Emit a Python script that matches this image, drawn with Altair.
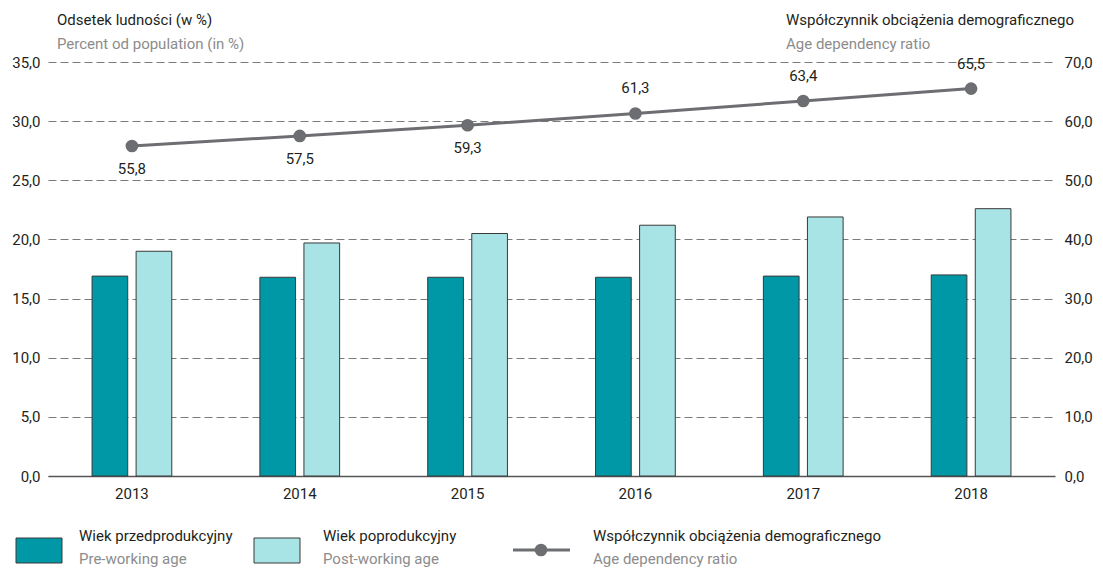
import altair as alt
import pandas as pd

# ---- data ----
years = ["2013", "2014", "2015", "2016", "2017", "2018"]
pre_working = [16.9, 16.8, 16.8, 16.8, 16.9, 17.0]
post_working = [19.0, 19.7, 20.5, 21.2, 21.9, 22.6]
dependency_ratio = [55.8, 57.5, 59.3, 61.3, 63.4, 65.5]

series_pl = ["Wiek przedprodukcyjny", "Wiek poprodukcyjny", "Współczynnik obciążenia demograficznego"]
series_en = ["Pre-working age", "Post-working age", "Age dependency ratio"]
left_title = ["Odsetek ludności (w %)", "Percent od population (in %)"]
right_title = ["Współczynnik obciążenia demograficznego", "Age dependency ratio"]

left_ticks = [0, 5, 10, 15, 20, 25, 30, 35]
right_ticks = [0, 10, 20, 30, 40, 50, 60, 70]

DARK = "#0098A6"
LIGHT = "#A8E3E5"
GREY = "#6D6E71"
TXT = "#231F20"
SUB = "#8C8C8C"
FONT = "Roboto, Liberation Sans, sans-serif"
FS = 15

bars_df = pd.DataFrame({
    "year": years * 2,
    "series": [series_pl[0]] * len(years) + [series_pl[1]] * len(years),
    "value": pre_working + post_working,
})
line_df = pd.DataFrame({"year": years, "ratio": dependency_ratio})

fmt = "replace(format(datum.value, '.1f'), '.', ',')"

x_enc = alt.X("year:O", sort=years,
              scale=alt.Scale(paddingInner=0, paddingOuter=0),
              axis=alt.Axis(title=None, labelAngle=0, domain=True, domainColor="#555555",
                            domainWidth=1.5, ticks=False, labelPadding=10, grid=False))

bars = alt.Chart(bars_df).mark_bar(stroke="#3a3a3a", strokeWidth=1).encode(
    x=x_enc,
    xOffset=alt.XOffset("series:N", sort=series_pl[:2],
                        scale=alt.Scale(paddingInner=0.19, paddingOuter=1.0)),
    y=alt.Y("value:Q", scale=alt.Scale(domain=[0, 35], nice=False),
            axis=alt.Axis(title=None, values=left_ticks, labelExpr=fmt, grid=True,
                          gridDash=[8, 4], gridColor="#7a7a7a", gridWidth=1,
                          domain=False, ticks=False, labelPadding=8)),
    color=alt.Color("series:N", scale=alt.Scale(domain=series_pl[:2], range=[DARK, LIGHT]),
                    legend=None),
)

y_r = alt.Y("ratio:Q", scale=alt.Scale(domain=[0, 70], nice=False),
            axis=alt.Axis(title=None, orient="right", values=right_ticks, labelExpr=fmt,
                          grid=False, domain=False, ticks=False, labelPadding=9))

base_line = alt.Chart(line_df).encode(x=alt.X("year:O", sort=years), y=y_r)
line = base_line.mark_line(color=GREY, strokeWidth=3)
points = base_line.mark_point(filled=True, color=GREY, size=160, opacity=1)
lab = base_line.transform_calculate(
    label="replace(format(datum.ratio, '.1f'), '.', ',')"
)
labels_below = lab.transform_filter("toNumber(datum.year) <= 2015").mark_text(
    dy=23, font=FONT, fontSize=FS, color=TXT).encode(text="label:N")
labels_above = lab.transform_filter("toNumber(datum.year) > 2015").mark_text(
    dy=-25, font=FONT, fontSize=FS, color=TXT).encode(text="label:N")

line_layer = alt.layer(line, points, labels_below, labels_above)


def txt(s, x, y, color, align="left"):
    return alt.Chart(pd.DataFrame({"t": [s]})).mark_text(
        align=align, baseline="middle", font=FONT, fontSize=FS, color=color
    ).encode(text="t:N", x=alt.value(x), y=alt.value(y))


def swatch(x0, x1, color):
    return alt.Chart(pd.DataFrame({"t": ["s"]})).mark_rect(
        color=color, stroke="#3a3a3a", strokeWidth=1
    ).encode(x=alt.value(x0), x2=alt.value(x1), y=alt.value(476), y2=alt.value(501))


deco = [
    txt(left_title[0], 9, -42, TXT),
    txt(left_title[1], 9, -18, SUB),
    txt(right_title[0], 738, -42, TXT),
    txt(right_title[1], 738, -18, SUB),
    swatch(-32, 14, DARK),
    txt(series_pl[0], 31, 474, TXT),
    txt(series_en[0], 31, 497, SUB),
    swatch(206, 252, LIGHT),
    txt(series_pl[1], 275, 474, TXT),
    txt(series_en[1], 275, 497, SUB),
    alt.Chart(pd.DataFrame({"t": ["l"]})).mark_rule(color=GREY, strokeWidth=3).encode(
        x=alt.value(465), x2=alt.value(522), y=alt.value(488)),
    alt.Chart(pd.DataFrame({"t": ["p"]})).mark_point(filled=True, color=GREY, size=160, opacity=1).encode(
        x=alt.value(493), y=alt.value(488)),
    txt(series_pl[2], 545, 474, TXT),
    txt(series_en[2], 545, 497, SUB),
]

chart = alt.layer(bars, line_layer, *deco).resolve_scale(y="independent").properties(
    width=1007, height=414,
    autosize=alt.AutoSizeParams(type="none"),
    padding={"left": 40, "top": 54, "right": 40, "bottom": 96},
).configure_view(stroke=None).configure_axis(
    labelFont=FONT, labelFontSize=FS, labelColor=TXT
)

chart.save("out.html", embed_options={"renderer": "svg", "actions": False})
